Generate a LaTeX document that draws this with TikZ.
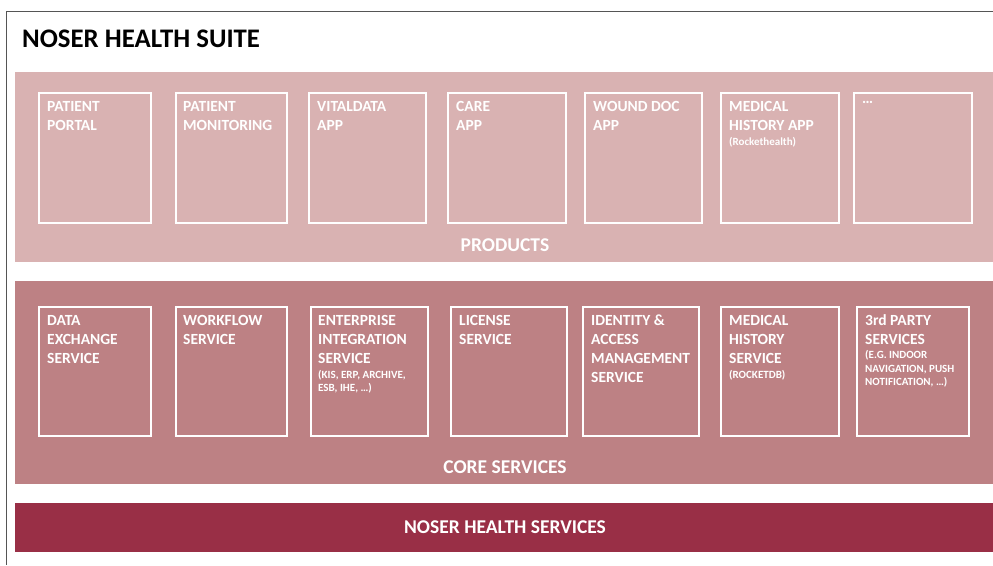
\documentclass[tikz,border=0pt]{standalone}
\usepackage{fontspec}
\setmainfont{Carlito}
\definecolor{prodband}{HTML}{D9B2B2}
\definecolor{coreband}{HTML}{BD8184}
\definecolor{noserband}{HTML}{992F46}
\definecolor{framegray}{HTML}{555555}
\begin{document}
\begin{tikzpicture}[x=1pt,y=-1pt,
  band/.style={draw=none, inner sep=0, anchor=north west},
  card/.style={draw=white, line width=2pt, inner sep=0, anchor=north west, minimum height=#1},
  card/.default=130pt,
  ttl/.style={anchor=north west, inner sep=0, align=left, text=white, font=\fontsize{15.5}{19}\selectfont\bfseries},
  sub/.style={anchor=north west, inner sep=0, align=left, text=white, font=\fontsize{11}{13.5}\selectfont\bfseries},
  lbl/.style={text=white, inner sep=0, font=\fontsize{19.5}{22}\selectfont\bfseries},
]
\useasboundingbox (0,0) rectangle (993,565);
\fill[white] (0,0) rectangle (993,565);
\draw[framegray, line width=1pt] (993,11.5) coordinate (fr1) -- (6.5,11.5) coordinate (fr2) -- (6.5,565) coordinate (fr3);

\node[anchor=base west, inner sep=0, font=\fontsize{26.8}{30}\selectfont\bfseries] (title) at (22,47) {NOSER HEALTH SUITE};

% bands
\node[band, fill=prodband, minimum width=978pt, minimum height=190pt] (prod) at (15,72) {};
\node[band, fill=coreband, minimum width=978pt, minimum height=203pt] (core) at (15,281) {};
\node[band, fill=noserband, minimum width=978pt, minimum height=49pt] (noser) at (15,503) {};

\node[lbl] (prodlbl) at (505,245) {PRODUCTS};
\node[lbl] (corelbl) at (505,467) {CORE SERVICES};
\node[lbl] (noserlbl) at (505,527) {NOSER HEALTH SERVICES};

% product cards
\node[card, minimum width=112pt] (p1) at (38,92) {};
\node[card, minimum width=111pt] (p2) at (175,92) {};
\node[card, minimum width=117pt] (p3) at (308,92) {};
\node[card, minimum width=118pt] (p4) at (447,92) {};
\node[card, minimum width=117pt] (p5) at (584,92) {};
\node[card, minimum width=118pt] (p6) at (720,92) {};
\node[card, minimum width=118pt] (p7) at (853,92) {};

\node[ttl] (p1t) at ([shift={(9,9)}]p1.north west) {PATIENT\\PORTAL};
\node[ttl] (p2t) at ([shift={(8,9)}]p2.north west) {PATIENT\\MONITORING};
\node[ttl] (p3t) at ([shift={(9,9)}]p3.north west) {VITALDATA\\APP};
\node[ttl] (p4t) at ([shift={(9,9)}]p4.north west) {CARE\\APP};
\node[ttl] (p5t) at ([shift={(9,9)}]p5.north west) {WOUND DOC\\APP};
\node[ttl] (p6t) at ([shift={(9,9)}]p6.north west) {MEDICAL\\HISTORY APP};
\node[sub] (p6s) at ([shift={(0,6)}]p6t.south west) {(Rockethealth)};
\node[ttl] (p7t) at ([shift={(9,9)}]p7.north west) {\dots};

% core cards
\node[card=129pt, minimum width=112pt] (c1) at (38,306) {};
\node[card=129pt, minimum width=111pt] (c2) at (175,306) {};
\node[card=129pt, minimum width=117pt] (c3) at (310,306) {};
\node[card=129pt, minimum width=116pt] (c4) at (450,306) {};
\node[card=129pt, minimum width=116pt] (c5) at (582,306) {};
\node[card=129pt, minimum width=118pt] (c6) at (720,306) {};
\node[card=129pt, minimum width=112pt] (c7) at (856,306) {};

\node[ttl] (c1t) at ([shift={(9,9)}]c1.north west) {DATA\\EXCHANGE\\SERVICE};
\node[ttl] (c2t) at ([shift={(8,9)}]c2.north west) {WORKFLOW\\SERVICE};
\node[ttl] (c3t) at ([shift={(8,9)}]c3.north west) {ENTERPRISE\\INTEGRATION\\SERVICE};
\node[sub] (c3s) at ([shift={(0,6)}]c3t.south west) {(KIS, ERP, ARCHIVE,\\ESB, IHE, \dots)};
\node[ttl] (c4t) at ([shift={(9,9)}]c4.north west) {LICENSE\\SERVICE};
\node[ttl] (c5t) at ([shift={(9,9)}]c5.north west) {IDENTITY \&\\ACCESS\\MANAGEMENT\\SERVICE};
\node[ttl] (c6t) at ([shift={(9,9)}]c6.north west) {MEDICAL\\HISTORY\\SERVICE};
\node[sub] (c6s) at ([shift={(0,6)}]c6t.south west) {(ROCKETDB)};
\node[ttl] (c7t) at ([shift={(9,8)}]c7.north west) {3rd PARTY\\SERVICES};
\node[sub] (c7s) at ([shift={(0,6)}]c7t.south west) {(E.G. INDOOR\\NAVIGATION, PUSH\\NOTIFICATION, \dots)};
\end{tikzpicture}
\end{document}
